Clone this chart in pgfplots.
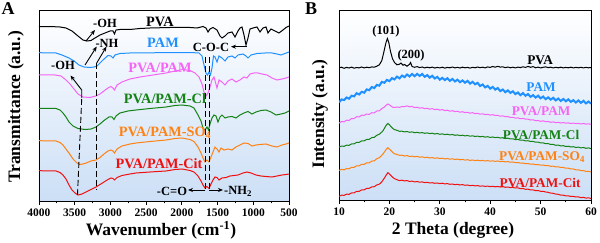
\documentclass[border=0pt]{standalone}
\usepackage{fontspec}
\setmainfont{Liberation Serif}
\usepackage{pgfplots}
\pgfplotsset{compat=1.18}
\usetikzlibrary{arrows.meta}
\definecolor{cblue}{RGB}{30,144,255}
\definecolor{cpink}{RGB}{245,100,245}
\definecolor{cgreen}{RGB}{20,130,20}
\definecolor{corange}{RGB}{255,130,20}
\definecolor{cred}{RGB}{240,16,16}
\definecolor{bgblue}{RGB}{204,223,246}
\pgfplotsset{myax/.style={scale only axis, axis line style={line width=0.8pt},
  y dir=reverse, ytick=\empty, tick align=outside, xtick pos=left,
  major tick length=4pt, minor tick length=2.5pt,
  every tick/.style={black, line width=0.8pt},
  ticklabel style={font=\fontsize{11.5}{12}\selectfont\bfseries},
  /pgf/number format/assume math mode=true,
  /pgf/number format/1000 sep={}, scaled x ticks=false,
  axis background/.style={shade, top color=white, bottom color=bgblue}}}
\tikzset{lab/.style={font=\fontsize{14.3}{15}\selectfont\bfseries},
  labb/.style={font=\fontsize{13.3}{14}\selectfont\bfseries},
  ann/.style={font=\fontsize{12.5}{13}\selectfont\bfseries},
  arr/.style={-{Stealth[length=5pt,width=4pt]}, line width=0.9pt, black},
  dsh/.style={line width=0.9pt, black, dash pattern=on 6pt off 3pt}}
\begin{document}
\begin{tikzpicture}
\useasboundingbox (0,0) rectangle (600pt,243pt);
% ---------------- Panel A ----------------
\begin{axis}[myax, at={(39pt,42pt)}, anchor=south west, width=250pt, height=191pt,
  xmin=500, xmax=4000, x dir=reverse, ymin=10, ymax=201,
  xtick={500,1000,...,4000}, minor x tick num=1]
\addplot[black, line width=1pt] coordinates {(4000,26.7)(3846,26.5)(3706,27)(3622,28)(3538,31)(3454,36)(3384,40)(3328,41)(3272,40.5)(3216,38)(3146,35)(3076,33)(3006,31)(2964,31)(2943,34)(2922,30)(2866,29.5)(2726,29.5)(2586,28.5)(2446,28)(2166,27.5)(1886,27.5)(1788,28)(1704,26.5)(1662,28)(1634,32)(1606,29)(1564,27.5)(1508,30)(1466,36)(1438,38)(1396,36)(1354,33)(1298,32)(1256,37)(1214,31)(1186,28)(1158,27)(1130,35)(1102,45)(1074,38)(1046,29)(1004,28)(948,27)(906,32)(864,28)(822,27)(794,33)(752,29)(696,31)(640,33)(584,30)(542,27.5)(500,26)};
\addplot[cblue, line width=1pt] coordinates {(4000,52.7)(3762,53)(3678,55)(3580,58)(3510,61)(3440,65)(3370,67)(3286,67.5)(3230,67)(3188,66)(3146,63)(3104,60)(3034,55.5)(2992,56)(2964,58)(2936,55)(2866,53.5)(2726,53)(2306,52.7)(1886,52.5)(1760,53)(1718,56)(1690,65)(1662,73)(1641,75)(1620,72)(1599,75)(1578,68)(1557,56)(1536,57)(1508,62)(1480,56)(1438,58)(1396,61)(1354,57)(1298,56)(1256,58)(1214,55)(1144,54)(1102,56)(1074,58)(1032,55)(948,53.5)(836,53)(738,53)(668,54)(612,55)(556,53.5)(500,52)};
\addplot[cpink, line width=1pt] coordinates {(4000,75)(3776,75)(3692,76)(3622,80)(3566,84)(3510,89)(3454,94)(3384,97)(3286,97.5)(3202,96)(3146,94)(3090,91)(3034,88)(2992,86.5)(2964,88)(2943,90)(2908,85)(2838,82)(2726,79)(2586,77)(2404,75)(2222,73)(2096,71)(1984,69.5)(1886,70.5)(1816,73)(1760,77)(1718,84)(1690,92)(1662,96)(1634,93)(1606,87)(1578,80)(1550,77)(1508,88)(1480,80)(1438,82)(1396,85)(1354,81)(1298,79)(1242,82)(1186,80)(1130,77)(1088,78)(1046,74)(990,73)(934,73)(878,74)(808,75)(738,78)(668,80)(598,79)(542,78)(500,77)};
\addplot[cgreen, line width=1pt] coordinates {(4000,108.3)(3762,108.5)(3706,110)(3664,113)(3622,117)(3580,122)(3524,126)(3454,128.5)(3356,129.5)(3272,129)(3202,127)(3146,124)(3090,120.5)(3020,117)(2978,117)(2950,119.5)(2922,116)(2866,113)(2754,111)(2642,110)(2446,108.5)(2222,107)(2096,105.5)(1998,105)(1886,106)(1830,108)(1774,115)(1732,121)(1704,128)(1676,130)(1648,127)(1627,130)(1606,124)(1578,118)(1550,115)(1522,116)(1494,122)(1466,117)(1438,115)(1396,118)(1354,117)(1298,116.5)(1242,118)(1186,115)(1130,113)(1074,111.5)(1018,114)(962,112)(892,110.5)(822,110)(752,112)(682,115)(612,114)(556,113)(500,111)};
\addplot[corange, line width=1pt] coordinates {(4000,140.7)(3762,141)(3706,142.5)(3664,145)(3622,149)(3580,153)(3524,159)(3468,163)(3426,164.5)(3356,163.5)(3272,161)(3202,160)(3146,157.5)(3090,154)(3034,151)(2992,150)(2964,151)(2943,153)(2908,149)(2838,146)(2726,144)(2642,143)(2446,141.5)(2222,140)(2096,138.5)(1998,138)(1886,139.5)(1830,141.5)(1774,147)(1732,153)(1704,158)(1676,162)(1648,160)(1620,162)(1592,157)(1564,152)(1536,147)(1508,149)(1480,152)(1452,148)(1410,150)(1354,149)(1298,150)(1242,147)(1186,145)(1130,143)(1074,143.5)(1018,146)(962,145)(906,144.5)(822,144)(738,146)(668,147)(598,145)(542,144)(500,143)};
\addplot[cred, line width=1pt] coordinates {(4000,170.7)(3762,171)(3706,172.5)(3664,175)(3622,179)(3580,185)(3538,190)(3496,193)(3454,195)(3398,194)(3342,192)(3272,189.5)(3202,187)(3146,184.5)(3090,182)(3034,179.5)(2992,178)(2964,178.5)(2943,180)(2908,177.5)(2838,175.5)(2726,174)(2642,173)(2446,172)(2222,171)(2096,169.5)(1998,169)(1886,170.5)(1830,172)(1774,176)(1732,181)(1704,185)(1676,188)(1648,186.5)(1620,188.5)(1592,184)(1564,180)(1536,177)(1508,177.5)(1480,180)(1438,178)(1382,177.5)(1326,176)(1270,175.5)(1214,175)(1144,173)(1088,172)(1032,173)(962,175)(892,176)(822,176.5)(738,177)(668,176)(598,175)(542,174.5)(500,174)};
% annotations
\draw[dsh] (axis cs:3402,99) -- (axis cs:3461,195);
\draw[dsh] (axis cs:3192,63) -- (axis cs:3192,190);
\draw[dsh] (axis cs:1669,57) -- (axis cs:1669,189);
\draw[dsh] (axis cs:1613,57) -- (axis cs:1613,189);
\draw[arr] (axis cs:3342,41) -- (axis cs:3216,30);
\draw[arr] (axis cs:3356,65) -- (axis cs:3192,46.5);
\draw[arr] (axis cs:3192,63) -- (axis cs:3055,46.5);
\draw[arr] (axis cs:3402,98) -- (axis cs:3402,90) -- (axis cs:3559,75.5);
\draw[arr] (axis cs:1092,46.7) -- (axis cs:1312,46.7);
\draw[arr] (axis cs:1669,190) -- (axis cs:1914,190);
\draw[arr] (axis cs:1613,190) -- (axis cs:1424,190);
\node[ann] at (axis cs:3076,23) {-OH};
\node[ann] at (axis cs:3048,43) {-NH};
\node[ann] at (axis cs:3664,65) {-OH};
\node[ann] at (axis cs:1592,47) {C-O-C};
\node[ann] at (axis cs:2138,191) {-C=O};
\node[ann] at (axis cs:1214,191.5) {-NH\textsubscript{2}};
\node[lab, black] at (axis cs:2306,22) {PVA};
\node[lab, cblue] at (axis cs:2264,43) {PAM};
\node[lab, cpink] at (axis cs:2306,68) {PVA/PAM};
\node[lab, cgreen] at (axis cs:2236,99) {PVA/PAM-Cl};
\node[lab, corange] at (axis cs:2236,133) {PVA/PAM-SO\textsubscript{4}};
\node[lab, cred] at (axis cs:2320,164) {PVA/PAM-Cit};
\end{axis}
% ---------------- Panel B ----------------
\begin{axis}[myax, at={(339pt,43pt)}, anchor=south west, width=252pt, height=190pt,
  xmin=10, xmax=60, ymin=10, ymax=200,
  xtick={10,20,...,60}, minor x tick num=1]
\addplot[black, line width=1pt] coordinates {(10,67.8)(10.5,67.2)(11,68.3)(11.5,67.4)(12,68.0)(12.5,67.1)(13,68.2)(13.5,67.5)(14,67.9)(14.5,67.0)(15,67.9)(15.5,67.2)(16,67.7)(16.5,66.9)(17,67.2)(17.5,66.2)(18,64.8)(18.5,60.5)(18.9,52)(19.3,43)(19.6,38.5)(19.9,43)(20.2,51)(20.6,58.5)(21,62.5)(21.5,64.8)(22,64.2)(22.3,63)(22.7,65.2)(23,64.5)(23.5,66.2)(24,64.3)(24.2,62.5)(24.5,66.5)(25,67.3)(25.5,66.6)(26,67.6)(26.5,67.0)(27,67.9)(27.5,67.2)(28,67.8)(28.5,67.1)(29,68.0)(29.5,67.4)(30,67.9)(30.5,67.2)(31,68.1)(31.5,67.4)(32,67.8)(32.5,67.0)(33,67.9)(33.5,67.3)(34,68.0)(34.5,67.2)(35,67.8)(35.5,67.4)(36,68.1)(36.5,67.3)(37,67.8)(37.5,67.0)(38,67.7)(38.5,67.2)(39,67.9)(39.5,66.9)(40,67.4)(40.5,66.5)(41,67.2)(41.5,66.3)(42,67.1)(42.5,66.8)(43,67.7)(43.5,67.0)(44,67.8)(44.5,67.2)(45,67.9)(45.5,67.1)(46,67.6)(46.5,66.8)(47,67.4)(47.5,66.4)(48,67.3)(48.5,66.6)(49,67.8)(49.5,67.1)(50,67.9)(50.5,67.3)(51,66.9)(51.5,67.6)(52,67.2)(52.5,67.9)(53,67.3)(53.5,67.8)(54,67.2)(54.5,67.9)(55,67.4)(55.5,67.8)(56,67.2)(56.5,67.9)(57,67.4)(57.5,67.8)(58,67.3)(58.5,67.9)(59,67.4)(59.5,67.8)(60,67.5)};
\addplot[cblue, line width=2pt] coordinates {(10,102.5)(10.5,99.4)(11,100.1)(11.5,97.5)(12,98.7)(12.5,95.7)(13,96.4)(13.5,93.2)(14,94.5)(14.5,91.8)(15,92.7)(15.5,89.4)(16,90.2)(16.5,87.0)(17,88.1)(17.5,84.9)(18,85.7)(18.5,81.9)(19,82.8)(19.5,79.9)(20,81.2)(20.5,78.2)(21,79.4)(21.5,76.6)(22,78.4)(22.5,75.6)(23,77.1)(23.5,74.5)(24,76.5)(24.5,74.0)(25,76.2)(25.5,73.9)(26,75.9)(26.5,74.0)(27,76.8)(27.5,75.1)(28,77.6)(28.5,75.8)(29,78.5)(29.5,76.9)(30,79.7)(30.5,77.85)(31,80.1)(31.5,78.2)(32,80.9)(32.5,78.95)(33,81.5)(33.5,79.65)(34,82.2)(34.5,80.45)(35,82.7)(35.5,80.8)(36,83.6)(36.5,81.8)(37,84.3)(37.5,82.85)(38,86.0)(38.5,84.5)(39,87.4)(39.5,85.85)(40,88.6)(40.5,86.9)(41,89.6)(41.5,88.05)(42,91.1)(42.5,89.5)(43,92.2)(43.5,90.4)(44,92.9)(44.5,91.3)(45,94.1)(45.5,92.5)(46,95.2)(46.5,93.1)(47,95.8)(47.5,94.1)(48,96.8)(48.5,95.15)(49,97.6)(49.5,95.7)(50,98.3)(50.5,96.55)(51,99.2)(51.5,97.35)(52,99.6)(52.5,97.8)(53,100.4)(53.5,98.55)(54,101.0)(54.5,98.95)(55,101.3)(55.5,99.35)(56,101.9)(56.5,100.15)(57,102.5)(57.5,100.45)(58,102.8)(58.5,100.85)(59,103.4)(59.5,101.55)(60,103.6)};
\addplot[cpink, line width=1pt] coordinates {(10,123.1)(10.5,121.6)(11,121.8)(11.5,120.2)(12,120.4)(12.5,118.6)(13,118.5)(13.5,116.7)(14,116.9)(14.5,115.2)(15,115.3)(15.5,114.0)(16,114.4)(16.5,112.7)(17,112.9)(17.5,111.0)(18,110.8)(18.5,108.6)(19,107)(19.4,105)(19.7,104)(20,104.8)(20.3,106)(20.7,107.3)(21,107.5)(21.5,107.0)(22,107.4)(22.5,106.5)(23,106.6)(23.5,105.9)(24,106.8)(24.5,106.4)(25,107.6)(25.5,107.2)(26,108.2)(26.5,107.7)(27,108.6)(27.5,108.3)(28,109.2)(28.5,108.6)(29,109.6)(29.5,109.2)(30,110.1)(30.5,109.6)(31,110.6)(31.5,110.2)(32,111.2)(32.5,110.7)(33,111.6)(33.5,111.3)(34,112.2)(34.5,111.7)(35,112.6)(35.5,112.3)(36,113.2)(36.5,112.7)(37,113.6)(37.5,113.3)(38,114.2)(38.5,113.8)(39,114.6)(39.5,114.3)(40,115.1)(40.5,114.7)(41,115.4)(41.5,115.4)(42,116.2)(42.5,115.9)(43,116.6)(43.5,116.6)(44,117.5)(44.5,117.3)(45,118.1)(45.5,117.9)(46,118.7)(46.5,118.4)(47,119.1)(47.5,119.2)(48,120.0)(48.5,119.8)(49,120.6)(49.5,120.5)(50,121.3)(50.5,120.9)(51,121.6)(51.5,121.5)(52,122.3)(52.5,121.9)(53,122.6)(53.5,122.4)(54,123.0)(54.5,122.6)(55,123.1)(55.5,122.9)(56,123.5)(56.5,123.1)(57,123.6)(57.5,123.4)(58,124.0)(58.5,123.5)(59,124.1)(59.5,123.8)(60,124.3)};
\addplot[cgreen, line width=1pt] coordinates {(10,147.1)(10.5,146.1)(11,146.3)(11.5,145.2)(12,145.3)(12.5,143.9)(13,143.8)(13.5,142.4)(14,142.3)(14.5,140.9)(15,140.8)(15.5,139.4)(16,139.3)(16.5,137.6)(17,137.3)(17.5,135.3)(18,134.2)(18.5,132.0)(18.8,130.3)(19.1,127.5)(19.4,125)(19.7,123.4)(20,124.8)(20.3,126.5)(20.7,128.6)(21,129.6)(21.5,130.3)(22,131.3)(22.5,131.2)(23,131.9)(23.5,131.5)(24,132.3)(24.5,131.9)(25,132.7)(25.5,132.3)(26,133.0)(26.5,132.6)(27,133.3)(27.5,132.9)(28,133.6)(28.5,133.2)(29,134.0)(29.5,133.5)(30,134.3)(30.5,133.9)(31,134.6)(31.5,134.2)(32,134.9)(32.5,134.5)(33,135.3)(33.5,134.9)(34,135.6)(34.5,135.2)(35,135.9)(35.5,135.5)(36,136.2)(36.5,135.8)(37,136.5)(37.5,136.1)(38,136.8)(38.5,136.4)(39,137.1)(39.5,136.7)(40,137.4)(40.5,137.0)(41,137.6)(41.5,137.3)(42,138.0)(42.5,137.7)(43,138.4)(43.5,138.2)(44,138.9)(44.5,138.8)(45,139.6)(45.5,139.4)(46,140.2)(46.5,140.1)(47,140.9)(47.5,140.7)(48,141.5)(48.5,141.4)(49,142.2)(49.5,142.1)(50,142.9)(50.5,142.9)(51,143.7)(51.5,143.6)(52,144.5)(52.5,144.4)(53,145.3)(53.5,145.1)(54,145.9)(54.5,145.7)(55,146.5)(55.5,146.2)(56,147.0)(56.5,146.7)(57,147.5)(57.5,147.1)(58,147.9)(58.5,147.5)(59,148.3)(59.5,147.9)(60,148.6)};
\addplot[corange, line width=1pt] coordinates {(10,170.4)(10.5,169.4)(11,169.8)(11.5,168.6)(12,168.8)(12.5,167.3)(13,167.3)(13.5,165.8)(14,165.8)(14.5,164.3)(15,164.3)(15.5,162.8)(16,162.8)(16.5,161.1)(17,160.8)(17.5,158.7)(18,157.7)(18.5,155.3)(18.8,153.5)(19.1,151.3)(19.4,149.2)(19.7,147.8)(20,149.1)(20.3,150.6)(20.7,152.6)(21,153.8)(21.5,154.4)(22,155.3)(22.5,155.2)(23,156.0)(23.5,155.6)(24,156.5)(24.5,156.1)(25,156.8)(25.5,156.4)(26,157.2)(26.5,156.8)(27,157.6)(27.5,157.2)(28,158.0)(28.5,157.6)(29,158.3)(29.5,157.9)(30,158.5)(30.5,158.2)(31,158.9)(31.5,158.5)(32,159.2)(32.5,158.8)(33,159.5)(33.5,159.1)(34,159.8)(34.5,159.4)(35,160.1)(35.5,159.7)(36,160.4)(36.5,160.0)(37,160.6)(37.5,160.2)(38,160.8)(38.5,160.4)(39,161.0)(39.5,160.6)(40,161.2)(40.5,160.8)(41,161.4)(41.5,161.0)(42,161.6)(42.5,161.3)(43,161.9)(43.5,161.6)(44,162.2)(44.5,162.0)(45,162.6)(45.5,162.5)(46,163.2)(46.5,163.0)(47,163.7)(47.5,163.5)(48,164.2)(48.5,164.0)(49,164.7)(49.5,164.5)(50,165.2)(50.5,165.0)(51,165.7)(51.5,165.6)(52,166.3)(52.5,166.2)(53,166.9)(53.5,166.8)(54,167.5)(54.5,167.5)(55,168.2)(55.5,168.2)(56,169.0)(56.5,169.0)(57,169.8)(57.5,169.8)(58,170.6)(58.5,170.6)(59,171.4)(59.5,171.3)(60,172.0)};
\addplot[cred, line width=1pt] coordinates {(10,196.4)(10.5,195.2)(11,195.3)(11.5,194.2)(12,194.3)(12.5,192.9)(13,192.8)(13.5,191.4)(14,191.3)(14.5,189.9)(15,189.8)(15.5,188.4)(16,188.3)(16.5,186.9)(17,186.7)(17.5,184.9)(18,184.2)(18.5,181.8)(18.8,179.6)(19.1,177.3)(19.4,174.8)(19.7,172.7)(20,173.9)(20.3,175.6)(20.7,177.5)(21,178.6)(21.5,179.7)(22,180.6)(22.5,180.2)(23,180.9)(23.5,180.6)(24,181.5)(24.5,181.1)(25,181.9)(25.5,181.5)(26,182.2)(26.5,181.9)(27,182.6)(27.5,182.3)(28,183.0)(28.5,182.7)(29,183.3)(29.5,183.0)(30,183.6)(30.5,183.2)(31,183.9)(31.5,183.6)(32,184.3)(32.5,184.0)(33,184.7)(33.5,184.3)(34,185.0)(34.5,184.6)(35,185.3)(35.5,185.0)(36,185.7)(36.5,185.3)(37,185.9)(37.5,185.6)(38,186.2)(38.5,185.9)(39,186.4)(39.5,186.1)(40,186.6)(40.5,186.3)(41,186.8)(41.5,186.5)(42,187.0)(42.5,186.7)(43,187.3)(43.5,187.0)(44,187.6)(44.5,187.4)(45,188.0)(45.5,187.9)(46,188.6)(46.5,188.5)(47,189.3)(47.5,189.2)(48,189.9)(48.5,189.9)(49,190.6)(49.5,190.5)(50,191.3)(50.5,191.3)(51,192.0)(51.5,192.3)(52,193.1)(52.5,193.3)(53,194.1)(53.5,194.3)(54,195.1)(54.5,195.2)(55,195.8)(55.5,195.8)(56,196.5)(56.5,196.4)(57,197.0)(57.5,196.9)(58,197.6)(58.5,197.4)(59,198.1)(59.5,197.8)(60,198.5)};
\node[ann] at (axis cs:19.33,31.7) {(101)};
\node[ann] at (axis cs:24.3,55) {(200)};
\node[labb, black] at (axis cs:49.9,60) {PVA};
\node[labb, cblue] at (axis cs:50.1,87.3) {PAM};
\node[labb, cpink] at (axis cs:50.1,111.7) {PVA/PAM};
\node[labb, cgreen] at (axis cs:50.1,135) {PVA/PAM-Cl};
\node[labb, corange] at (axis cs:50.3,156.7) {PVA/PAM-SO\textsubscript{4}};
\node[labb, cred] at (axis cs:49.9,182.7) {PVA/PAM-Cit};
\end{axis}
% axis labels and panel letters
\node[font=\fontsize{17.5}{18}\selectfont\bfseries] at (161pt,13pt) {Wavenumber (cm\textsuperscript{-1})};
\node[font=\fontsize{17.5}{18}\selectfont\bfseries] at (453pt,13pt) {2 Theta (degree)};
\node[font=\fontsize{17.5}{18}\selectfont\bfseries, rotate=90] at (16pt,136pt) {Transmittance (a.u.)};
\node[font=\fontsize{17.5}{18}\selectfont\bfseries, rotate=90] at (320pt,129pt) {Intensity (a.u.)};
\node[font=\fontsize{18}{19}\selectfont\bfseries] at (8pt,234pt) {A};
\node[font=\fontsize{18}{19}\selectfont\bfseries] at (311pt,234pt) {B};
\end{tikzpicture}
\end{document}
